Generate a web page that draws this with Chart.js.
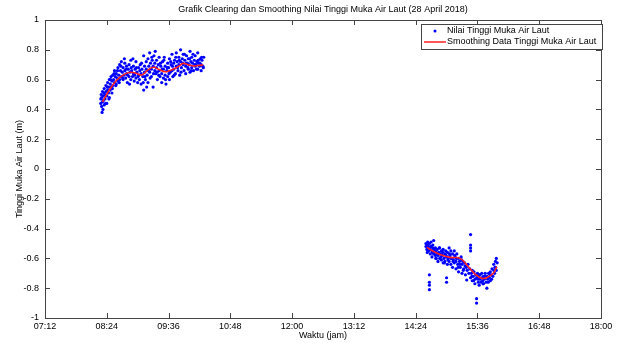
<!DOCTYPE html>
<html>
<head>
<meta charset="utf-8">
<script src="https://cdn.jsdelivr.net/npm/chart.js@4.4.1/dist/chart.umd.min.js"></script>
<style>
  html, body { margin: 0; padding: 0; background: #fff; }
</style>
</head>
<body>
<canvas id="chart" width="622" height="343"></canvas>
<script>
// time in minutes after midnight, level in metres
const xTickLabels = ['07:12', '08:24', '09:36', '10:48', '12:00', '13:12', '14:24', '15:36', '16:48', '18:00'];

// morning block of observations
const timesAM = [497,497,497.5,498,498,498.5,499,499,499.5,500,500,501,501,502,502,503,503,504,504,505,505,506,506,507,507,508,508,509,509,510,510,511,511,512,513,513,514,515,515,516,517,517,518,519,519,520,521,521,522,523,523,524,525,525,526,527,527,528,529,530,530,531,532,532,533,534,535,535,536,537,538,538,539,540,541,541,542,543,544,544,545,546,547,547,548,548,549,550,550,551,552,552,553,554,554,555,556,556,557,558,558,559,560,560,561,562,562,563,564,565,565,566,567,568,568,569,570,570,571,572,572,573,574,575,575,576,577,577,578,579,580,580,581,582,582,583,584,585,585,586,587,588,588,589,590,590,591,592,593,593,594,595,596,596,597,598,599,599,600,601,601,602,603,603,604,605,606,607,607,608,609,610,610,611,612,613,614,614,615,616,617,
  500.5,502.5,504.5,506.5,508.5,510.5,512.5,514.5,516.5,518.5,520.5,522.5,524.5,526.5,528.5,530.5,532.5,534.5,536.5,538.5,540.5,542.5,544.5,546.5,548.5,550.5,552.5,554.5,556.5,558.5,560.5,562.5,564.5,566.5,568.5,570.5,572.5,574.5,576.5,578.5,580.5,582.5,584.5,586.5,588.5,590.5,592.5,594.5,596.5,598.5,600.5,602.5,604.5,606.5,608.5,610.5,612.5,614.5,616.5];
const levelsAM = [0.47,0.44,0.50,0.42,0.48,0.38,0.45,0.52,0.40,0.49,0.46,0.54,0.43,0.50,0.47,0.56,0.52,0.44,0.49,0.58,0.53,0.51,0.55,0.60,0.48,0.57,0.53,0.62,0.55,0.59,0.51,0.63,0.56,0.60,0.58,0.66,0.62,0.57,0.64,0.61,0.68,0.59,0.63,0.70,0.60,0.66,0.62,0.72,0.65,0.60,0.68,0.63,0.71,0.66,0.61,0.69,0.64,0.58,0.67,0.62,0.70,0.65,0.60,0.73,0.66,0.62,0.69,0.64,0.59,0.67,0.61,0.72,0.65,0.58,0.68,0.63,0.60,0.70,0.64,0.57,0.67,0.62,0.76,0.53,0.69,0.65,0.60,0.72,0.67,0.63,0.74,0.58,0.69,0.65,0.78,0.71,0.62,0.67,0.73,0.69,0.55,0.76,0.66,0.71,0.64,0.73,0.68,0.60,0.70,0.66,0.75,0.62,0.69,0.64,0.58,0.72,0.67,0.61,0.75,0.63,0.69,0.57,0.66,0.71,0.62,0.68,0.74,0.60,0.65,0.70,0.66,0.77,0.62,0.71,0.67,0.73,0.64,0.69,0.78,0.72,0.66,0.75,0.70,0.63,0.72,0.80,0.68,0.74,0.70,0.77,0.66,0.73,0.69,0.64,0.76,0.71,0.67,0.74,0.70,0.79,0.65,0.72,0.68,0.75,0.71,0.66,0.73,0.69,0.76,0.70,0.72,0.67,0.78,0.71,0.69,0.74,0.70,0.66,0.73,0.69,0.75,
  0.51,0.44,0.55,0.47,0.60,0.54,0.64,0.56,0.66,0.58,0.69,0.61,0.74,0.67,0.63,0.57,0.68,0.74,0.63,0.68,0.62,0.66,0.71,0.58,0.62,0.55,0.66,0.61,0.75,0.64,0.79,0.65,0.63,0.71,0.67,0.73,0.60,0.68,0.64,0.72,0.69,0.63,0.75,0.68,0.73,0.65,0.71,0.77,0.71,0.68,0.74,0.66,0.77,0.70,0.67,0.73,0.71,0.75,0.68];

// afternoon block of observations
const timesPM = [876,876,877,877,878,878,879,879,880,880,880,880,880,881,881,882,882,883,883,884,884,885,885,886,887,887,888,888,889,890,890,891,892,892,893,894,894,895,896,896,897,898,898,899,900,900,900,901,901,902,903,903,904,905,905,906,907,907,908,909,909,910,911,911,912,913,914,914,915,916,917,918,918,919,920,921,922,923,923.5,924,925,926,927,928,928,928,928,928,929,930,930,931,932,933,933,934,935,935,935,936,937,937,938,939,939,940,941,941,942,943,943,944,945,946,947,947,948,949,950,951,951,952,953,954,955,955,956,957,957,958,958,959,
  877.5,879.5,881.5,883.5,885.5,887.5,889.5,891.5,893.5,895.5,897.5,899.5,901.5,903.5,905.5,907.5,909.5,911.5,913.5,915.5,917.5,919.5,921.5,929.5,931.5,936.5,938.5,942.5,944.5,948.5,950.5,952.5,956.5];
const levelsPM = [-0.52,-0.50,-0.54,-0.51,-0.53,-0.49,-0.55,-0.52,-0.71,-0.76,-0.78,-0.81,-0.50,-0.54,-0.57,-0.52,-0.49,-0.55,-0.59,-0.53,-0.51,-0.57,-0.48,-0.55,-0.58,-0.53,-0.60,-0.56,-0.54,-0.58,-0.62,-0.56,-0.60,-0.53,-0.57,-0.61,-0.55,-0.58,-0.63,-0.54,-0.60,-0.57,-0.62,-0.55,-0.73,-0.76,-0.59,-0.64,-0.56,-0.60,-0.53,-0.62,-0.58,-0.64,-0.55,-0.60,-0.57,-0.66,-0.61,-0.55,-0.63,-0.59,-0.67,-0.62,-0.57,-0.64,-0.60,-0.69,-0.62,-0.66,-0.59,-0.64,-0.70,-0.62,-0.67,-0.63,-0.71,-0.66,-0.745,-0.68,-0.64,-0.70,-0.67,-0.44,-0.51,-0.53,-0.55,-0.73,-0.70,-0.68,-0.75,-0.72,-0.69,-0.74,-0.77,-0.71,-0.87,-0.90,-0.73,-0.70,-0.76,-0.72,-0.78,-0.74,-0.71,-0.76,-0.73,-0.70,-0.75,-0.72,-0.77,-0.74,-0.70,-0.76,-0.80,-0.72,-0.74,-0.70,-0.73,-0.69,-0.75,-0.71,-0.67,-0.72,-0.68,-0.64,-0.70,-0.62,-0.66,-0.60,-0.68,-0.63,
  -0.56,-0.50,-0.52,-0.56,-0.54,-0.60,-0.57,-0.53,-0.59,-0.56,-0.63,-0.58,-0.61,-0.57,-0.60,-0.62,-0.58,-0.60,-0.66,-0.64,-0.61,-0.68,-0.65,-0.72,-0.75,-0.74,-0.71,-0.77,-0.72,-0.76,-0.71,-0.74,-0.66];

// smoothed curve
const smoothTimesAM = [499, 507, 515.6, 523, 531, 538, 544.7, 551, 558, 565, 572, 577, 581.5, 588, 593, 599, 605, 611, 616.5];
const smoothLevelsAM = [0.45, 0.53, 0.597, 0.63, 0.649, 0.642, 0.631, 0.66, 0.683, 0.668, 0.653, 0.66, 0.669, 0.69, 0.709, 0.70, 0.691, 0.695, 0.698];
const smoothTimesPM = [877, 884, 892.4, 904, 915.7, 925.4, 933.2, 941, 947.5, 954.5, 958.5];
const smoothLevelsPM = [-0.526, -0.55, -0.573, -0.593, -0.60, -0.656, -0.705, -0.734, -0.727, -0.70, -0.656];

const FONT = 'Liberation Sans';

const points = timesAM.map((t, i) => ({ x: t, y: levelsAM[i] }))
  .concat(timesPM.map((t, i) => ({ x: t, y: levelsPM[i] })));
const smooth = smoothTimesAM.map((t, i) => ({ x: t, y: smoothLevelsAM[i] }))
  .concat([{ x: 750, y: null }])
  .concat(smoothTimesPM.map((t, i) => ({ x: t, y: smoothLevelsPM[i] })));

const frameColor = '#444';

const matlabLook = {
  id: 'matlabLook',
  afterDraw(chart) {
    const ctx = chart.ctx;
    const a = chart.chartArea;
    const xs = chart.scales.x, ys = chart.scales.y;
    ctx.save();
    ctx.strokeStyle = frameColor;
    ctx.lineWidth = 1;
    // inward ticks
    ctx.beginPath();
    xs.ticks.forEach((t, i) => {
      const px = Math.round(xs.getPixelForTick(i)) + 0.5;
      ctx.moveTo(px, a.bottom); ctx.lineTo(px, a.bottom - 5);
      ctx.moveTo(px, a.top); ctx.lineTo(px, a.top + 5);
    });
    ys.ticks.forEach((t, i) => {
      const py = Math.round(ys.getPixelForTick(i)) + 0.5;
      ctx.moveTo(a.left, py); ctx.lineTo(a.left + 5, py);
      ctx.moveTo(a.right, py); ctx.lineTo(a.right - 5, py);
    });
    ctx.stroke();
    ctx.strokeRect(Math.round(a.left) + 0.5, Math.round(a.top) + 0.5,
      Math.round(a.right - a.left), Math.round(a.bottom - a.top));

    // title
    ctx.fillStyle = '#000';
    ctx.font = '9px "' + FONT + '"';
    ctx.textAlign = 'center';
    ctx.textBaseline = 'middle';
    ctx.fillText('Grafik Clearing dan Smoothing Nilai Tinggi Muka Air Laut (28 April 2018)', (a.left + a.right) / 2, 10);

    // legend
    const ds = chart.data.datasets;
    const lx = 421, ly = 24, lw = 181, lh = 25;
    ctx.fillStyle = '#fff';
    ctx.fillRect(lx, ly, lw, lh);
    ctx.strokeRect(lx + 0.5, ly + 0.5, lw, lh);
    ctx.textAlign = 'left';
    ctx.fillStyle = '#000';
    ctx.fillText(ds[0].label, 447, ly + 7);
    ctx.fillText(ds[1].label, 447, ly + 18);
    ctx.fillStyle = ds[0].backgroundColor;
    ctx.beginPath();
    ctx.arc(435, ly + 7, 1.5, 0, Math.PI * 2);
    ctx.fill();
    ctx.strokeStyle = ds[1].borderColor;
    ctx.lineWidth = 1.5;
    ctx.beginPath();
    ctx.moveTo(424, ly + 18); ctx.lineTo(446, ly + 18);
    ctx.stroke();
    ctx.restore();
  }
};

new Chart(document.getElementById('chart'), {
  type: 'scatter',
  data: {
    datasets: [{
      label: 'Nilai Tinggi Muka Air Laut',
      data: points,
      backgroundColor: '#0000ff',
      borderColor: '#0000ff',
      pointRadius: 1.6,
      pointBorderWidth: 0,
      order: 2
    }, {
      type: 'line',
      label: 'Smoothing Data Tinggi Muka Air Laut',
      data: smooth,
      borderColor: '#ff2020',
      borderWidth: 1.6,
      pointRadius: 0,
      tension: 0.4,
      fill: false,
      spanGaps: false,
      order: 1
    }]
  },
  options: {
    responsive: false,
    animation: false,
    layout: { padding: { left: 10, right: 21, top: 20, bottom: 0 } },
    plugins: {
      legend: { display: false },
      title: { display: false },
      tooltip: { enabled: false }
    },
    scales: {
      x: {
        type: 'linear',
        min: 432,
        max: 1080,
        grid: { display: false, drawTicks: false },
        border: { display: false },
        ticks: {
          stepSize: 72,
          autoSkip: false,
          maxRotation: 0,
          padding: 3,
          color: '#000',
          font: { family: FONT, size: 9 },
          callback: (v, i) => xTickLabels[i]
        },
        title: {
          display: true,
          text: 'Waktu (jam)',
          color: '#000',
          font: { family: FONT, size: 9 },
          padding: { top: 0, bottom: 2 }
        },
        afterFit: s => { s.height = 25; }
      },
      y: {
        min: -1,
        max: 1,
        grid: { display: false, drawTicks: false },
        border: { display: false },
        ticks: {
          stepSize: 0.2,
          padding: 6,
          color: '#000',
          font: { family: FONT, size: 9 },
          callback: v => Number(v.toFixed(1)).toString()
        },
        title: {
          display: true,
          text: 'Tinggi Muka Air Laut (m)',
          color: '#000',
          font: { family: FONT, size: 9 },
          padding: { top: 4, bottom: 0 }
        },
        afterFit: s => { s.width = 35; }
      }
    }
  },
  plugins: [matlabLook]
});
</script>
</body>
</html>
